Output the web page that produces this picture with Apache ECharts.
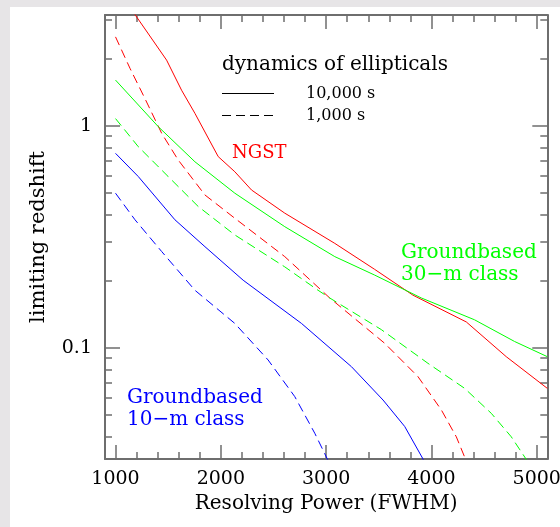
<!DOCTYPE html>
<html>
<head>
<meta charset="utf-8">
<script src="https://cdn.jsdelivr.net/npm/echarts@6/dist/echarts.min.js"></script>
<style>
  html, body { margin: 0; padding: 0; }
  body { background: #e7e5e7; width: 560px; height: 527px; position: relative; overflow: hidden; }
  #panel { position: absolute; left: 10px; top: 7px; width: 550px; height: 520px; background: #ffffff; }
  #chart { position: absolute; left: 0; top: 0; width: 560px; height: 527px; }
</style>
</head>
<body>
<div id="panel"></div>
<div id="chart"></div>
<script>
// ---- data ----
const ngst10kX = [1180, 1485, 1627, 1754, 1975, 2133, 2291, 2607, 3082, 3461, 3824, 4331, 4710, 5100];
const ngst10kY = [3.2, 1.98, 1.45, 1.14, 0.728, 0.622, 0.515, 0.405, 0.296, 0.226, 0.173, 0.131, 0.0914, 0.0658];

const ngst1kX = [1000, 1137, 1279, 1438, 1595, 1849, 2133, 2607, 3034, 3556, 3872, 4094, 4236, 4330];
const ngst1kY = [2.52, 1.82, 1.33, 0.927, 0.703, 0.489, 0.384, 0.258, 0.168, 0.105, 0.0743, 0.0526, 0.0398, 0.031];

const gb30m10kX = [1000, 1406, 1754, 2133, 2607, 3082, 3461, 3904, 4409, 4789, 5100];
const gb30m10kY = [1.61, 0.993, 0.69, 0.498, 0.352, 0.258, 0.213, 0.168, 0.134, 0.107, 0.0914];

const gb30m1kX = [1000, 1216, 1500, 1785, 2133, 2607, 2923, 3034, 3524, 3967, 4315, 4568, 4758, 4910];
const gb30m1kY = [1.08, 0.807, 0.592, 0.434, 0.323, 0.232, 0.182, 0.168, 0.121, 0.0853, 0.0658, 0.0508, 0.0398, 0.031];

const gb10m10kX = [1000, 1216, 1564, 1849, 2212, 2766, 3240, 3540, 3746, 3930];
const gb10m10kY = [0.753, 0.592, 0.378, 0.286, 0.202, 0.129, 0.0824, 0.0583, 0.0443, 0.031];

const gb10m1kX = [1000, 1185, 1438, 1754, 2133, 2449, 2702, 2892, 3020];
const gb10m1kY = [0.498, 0.378, 0.272, 0.182, 0.129, 0.0883, 0.0604, 0.0413, 0.031];

// ---- axes / ticks ----
const xMin = 900, xMax = 5100;
const yMin = Math.pow(10, -1.5), yMax = Math.pow(10, 0.5);
const xMajorTicks = [1000, 2000, 3000, 4000, 5000];
const xMinorTicks = [1200, 1400, 1600, 1800, 2200, 2400, 2600, 2800, 3200, 3400, 3600, 3800, 4200, 4400, 4600, 4800];
const yMajorTicks = [0.1, 1];
const yMinorTicks = [0.04, 0.05, 0.06, 0.07, 0.08, 0.09, 0.2, 0.3, 0.4, 0.5, 0.6, 0.7, 0.8, 0.9, 2, 3];

// ---- text ----
const xTitle = 'Resolving Power (FWHM)';
const yTitle = 'limiting redshift';
const legendTitle = 'dynamics of ellipticals';
const legendLabels = ['10,000 s', '1,000 s'];
const labelNGST = 'NGST';
const label30m = ['Groundbased', '30\u2212m class'];
const label10m = ['Groundbased', '10\u2212m class'];

const RED = '#ff0000', GREEN = '#00ff00', BLUE = '#0000ff';
const FONT = 'DejaVu Serif';
const AXIS_COLOR = '#6e6e6e';
const DASH = [9, 5];

function zip(xs, ys) { return xs.map((x, i) => [x, ys[i]]); }

function xAxisDef(pos, ticks, len, showLine, showLabel) {
  return {
    type: 'value', position: pos, min: xMin, max: xMax,
    axisLine: { show: showLine, onZero: false, lineStyle: { color: AXIS_COLOR, width: 2 } },
    axisTick: { show: true, inside: true, length: len, customValues: ticks, lineStyle: { color: AXIS_COLOR, width: 1.5 } },
    axisLabel: showLabel ? { show: true, customValues: ticks, color: '#000', fontFamily: FONT, fontSize: 19, margin: 11,
      formatter: v => String(v) } : { show: false },
    splitLine: { show: false },
    name: showLabel ? xTitle : '',
    nameLocation: 'middle', nameGap: 34,
    nameTextStyle: { color: '#000', fontFamily: FONT, fontSize: 20 }
  };
}
function yAxisDef(pos, ticks, len, showLine, showLabel) {
  return {
    type: 'log', logBase: 10, position: pos, min: yMin, max: yMax,
    axisLine: { show: showLine, onZero: false, lineStyle: { color: AXIS_COLOR, width: 2 } },
    axisTick: { show: true, inside: true, length: len, customValues: ticks, lineStyle: { color: AXIS_COLOR, width: 1.5 } },
    axisLabel: showLabel ? { show: true, customValues: ticks, color: '#000', fontFamily: FONT, fontSize: 19, margin: 13,
      formatter: v => String(+(+v).toPrecision(3)) } : { show: false },
    splitLine: { show: false },
    name: showLabel ? yTitle : '',
    nameLocation: 'middle', nameGap: 56, nameRotate: 90,
    nameTextStyle: { color: '#000', fontFamily: FONT, fontSize: 21 }
  };
}

function lineSeries(name, xs, ys, color, dashed) {
  return {
    name, type: 'line', xAxisIndex: 0, yAxisIndex: 0,
    data: zip(xs, ys), showSymbol: false, symbol: 'none', clip: true,
    lineStyle: { color, width: 1, type: dashed ? DASH : 'solid' },
    silent: true
  };
}

const chart = echarts.init(document.getElementById('chart'), null, { renderer: 'canvas' });

const txt = (text, x, y, color, size) => ({
  type: 'text', x, y,
  style: { text, fill: color, font: size + 'px "' + FONT + '"', textAlign: 'left', textVerticalAlign: 'middle' }
});

chart.setOption({
  animation: false,
  backgroundColor: 'transparent',
  grid: { left: 105, top: 15, right: 12.7, bottom: 68, containLabel: false, outerBoundsMode: 'none' },
  xAxis: [
    xAxisDef('bottom', xMajorTicks, 14, true, true),
    xAxisDef('bottom', xMinorTicks, 7, false, false),
    xAxisDef('top', xMajorTicks, 14, true, false),
    xAxisDef('top', xMinorTicks, 7, false, false)
  ],
  yAxis: [
    yAxisDef('left', yMajorTicks, 15, true, true),
    yAxisDef('left', yMinorTicks, 7, false, false),
    yAxisDef('right', yMajorTicks, 15, true, false),
    yAxisDef('right', yMinorTicks, 7, false, false)
  ],
  series: [
    lineSeries('NGST 10,000 s', ngst10kX, ngst10kY, RED, false),
    lineSeries('NGST 1,000 s', ngst1kX, ngst1kY, RED, true),
    lineSeries('30-m 10,000 s', gb30m10kX, gb30m10kY, GREEN, false),
    lineSeries('30-m 1,000 s', gb30m1kX, gb30m1kY, GREEN, true),
    lineSeries('10-m 10,000 s', gb10m10kX, gb10m10kY, BLUE, false),
    lineSeries('10-m 1,000 s', gb10m1kX, gb10m1kY, BLUE, true)
  ],
  graphic: [
    txt(legendTitle, 222, 65, '#000', 20),
    { type: 'line', shape: { x1: 222, y1: 93.5, x2: 274, y2: 93.5 }, style: { stroke: '#000', lineWidth: 1 } },
    { type: 'line', shape: { x1: 222, y1: 115.5, x2: 274, y2: 115.5 }, style: { stroke: '#000', lineWidth: 1, lineDash: DASH } },
    txt(legendLabels[0], 306, 94, '#000', 16),
    txt(legendLabels[1], 306, 116, '#000', 16),
    txt(labelNGST, 232, 153, RED, 18),
    txt(label30m[0], 401, 253, GREEN, 20),
    txt(label30m[1], 401, 275, GREEN, 20),
    txt(label10m[0], 127, 398, BLUE, 20),
    txt(label10m[1], 127, 420, BLUE, 20)
  ]
});
</script>
</body>
</html>
